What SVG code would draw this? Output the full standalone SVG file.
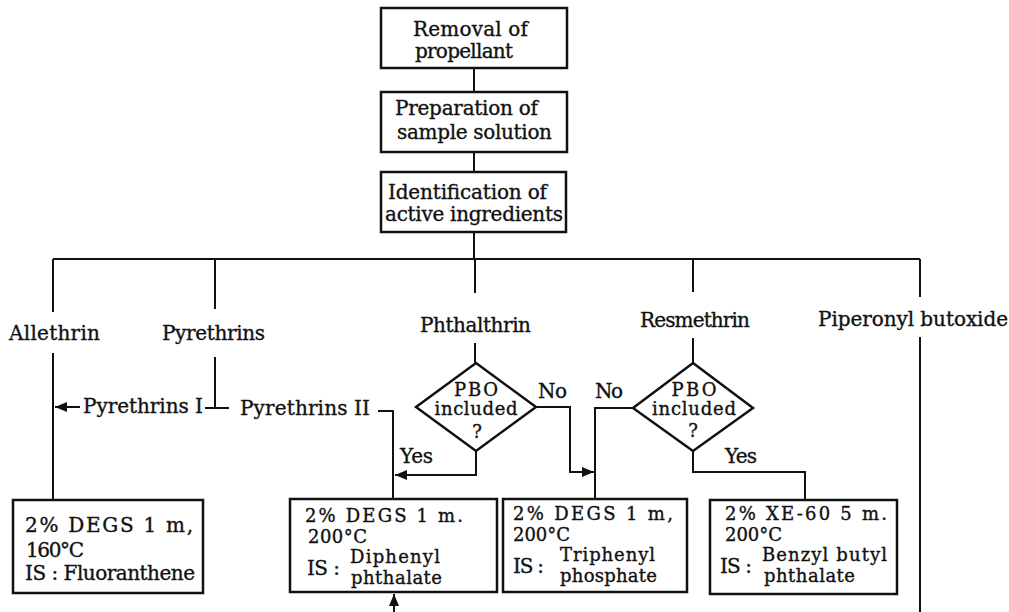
<svg xmlns="http://www.w3.org/2000/svg" width="1009" height="612" viewBox="0 0 1009 612">
<style>
text{font-family:"DejaVu Serif","Liberation Serif",serif;font-size:20px;fill:#111;stroke:#111;stroke-width:0.35}
.sm{font-size:18px}
.box{fill:#fff;stroke:#111;stroke-width:2.5}
.ln{fill:none;stroke:#111;stroke-width:2}
.c{text-anchor:middle}
</style>
<defs>
<marker id="ah" markerUnits="userSpaceOnUse" markerWidth="14" markerHeight="12" refX="12" refY="5" orient="auto">
<path d="M0,0 L12,5 L0,10 Z" fill="#111"/>
</marker>
</defs>
<rect width="1009" height="612" fill="#fff"/>
<g id="connectors">
<path class="ln" d="M474,68 V92 M474,152 V172 M474,232 V259"/>
<path class="ln" d="M53,259 H920 M53,259 V312 M215,259 V309 M475,259 V293 M693,259 V292 M920,259 V297"/>
<path class="ln" d="M53,353 V500"/>
<path class="ln" d="M80,407 H55" marker-end="url(#ah)"/>
<path class="ln" d="M215,357 V408 M205,408 H229"/>
<path class="ln" d="M378,411 H393 V499"/>
<path class="ln" d="M475,343 V363"/>
<path class="ln" d="M476,451 V475 H395" marker-end="url(#ah)"/>
<path class="ln" d="M536,407 H570 V472 H594" marker-end="url(#ah)"/>
<path class="ln" d="M633,408 H595 V499"/>
<path class="ln" d="M693,338 V363"/>
<path class="ln" d="M693,451 V472 H805 V500"/>
<path class="ln" d="M920,337 V612"/>
<path class="ln" d="M394,612 V594" marker-end="url(#ah)"/>
</g>
<g id="removal">
<rect class="box" x="381" y="8" width="186" height="60"/>
<text x="413" y="36" textLength="115">Removal of</text>
<text x="415" y="58" textLength="98">propellant</text>
</g>
<g id="preparation">
<rect class="box" x="381" y="92" width="186" height="60"/>
<text x="395" y="115" textLength="143">Preparation of</text>
<text x="397" y="139" textLength="155">sample solution</text>
</g>
<g id="identification">
<rect class="box" x="381" y="172" width="185" height="60"/>
<text x="388" y="199" textLength="159">Identification of</text>
<text x="385" y="221" textLength="178">active ingredients</text>
</g>
<g id="allethrin"><text x="9" y="340" textLength="91">Allethrin</text></g>
<g id="pyrethrins"><text x="162" y="340" textLength="103">Pyrethrins</text></g>
<g id="phthalthrin"><text x="420" y="332" textLength="111">Phthalthrin</text></g>
<g id="resmethrin"><text x="640" y="327" textLength="110">Resmethrin</text></g>
<g id="pbo"><text x="818" y="326" textLength="190">Piperonyl butoxide</text></g>
<g id="pyr1"><text x="83" y="413" textLength="120">Pyrethrins I</text></g>
<g id="pyr2"><text x="240" y="415" textLength="130">Pyrethrins II</text></g>
<g id="decision1">
<polygon class="box" points="476,363 536,407 476,451 416,407"/>
<text class="c sm" x="476" y="396" textLength="44">PBO</text>
<text class="c sm" x="476" y="415" textLength="83">included</text>
<text class="c sm" x="477" y="438">?</text>
</g>
<g id="decision2">
<polygon class="box" points="693,363 753,408 693,451 633,408"/>
<text class="c sm" x="694" y="396" textLength="45">PBO</text>
<text class="c sm" x="694" y="415" textLength="84">included</text>
<text class="c sm" x="693" y="437">?</text>
</g>
<g id="labels">
<text x="538" y="398" textLength="29">No</text>
<text x="595" y="398" textLength="28">No</text>
<text x="400" y="463" textLength="33">Yes</text>
<text x="725" y="463" textLength="32">Yes</text>
</g>
<g id="boxA">
<rect class="box" x="13" y="500" width="190" height="93"/>
<text x="25" y="532" textLength="168">2% DEGS 1 m,</text>
<text x="26" y="557" textLength="58">160°C</text>
<text x="25" y="580" textLength="170">IS : Fluoranthene</text>
</g>
<g id="boxB">
<rect class="box" x="290" y="499" width="207" height="93"/>
<text class="sm" x="305" y="522" textLength="158">2% DEGS 1 m.</text>
<text class="sm" x="308" y="543" textLength="59">200°C</text>
<text x="307" y="575" textLength="33">IS :</text>
<text class="sm" x="350" y="563" textLength="90">Diphenyl</text>
<text class="sm" x="351" y="584" textLength="91">phthalate</text>
</g>
<g id="boxC">
<rect class="box" x="503" y="499" width="184" height="93"/>
<text class="sm" x="513" y="520" textLength="160">2% DEGS 1 m,</text>
<text class="sm" x="513" y="541" textLength="57">200°C</text>
<text x="513" y="573" textLength="31">IS :</text>
<text class="sm" x="560" y="561" textLength="95">Triphenyl</text>
<text class="sm" x="560" y="582" textLength="97">phosphate</text>
</g>
<g id="boxD">
<rect class="box" x="710" y="500" width="187" height="94"/>
<text class="sm" x="725" y="520" textLength="162">2% XE-60 5 m.</text>
<text class="sm" x="725" y="541" textLength="57">200°C</text>
<text x="720" y="573" textLength="32">IS :</text>
<text class="sm" x="762" y="561" textLength="125">Benzyl butyl</text>
<text class="sm" x="764" y="582" textLength="91">phthalate</text>
</g>
</svg>
